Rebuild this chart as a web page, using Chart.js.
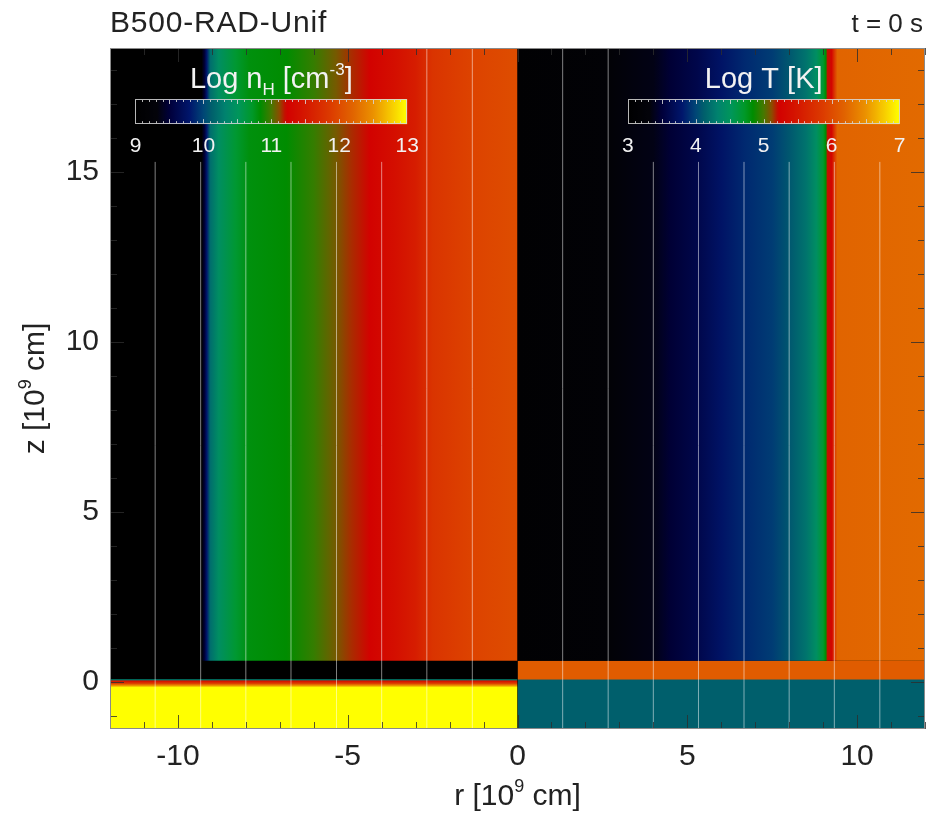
<!DOCTYPE html>
<html>
<head>
<meta charset="utf-8">
<title>B500-RAD-Unif</title>
<script src="https://cdn.jsdelivr.net/npm/chart.js@4.4.1/dist/chart.umd.min.js"></script>
<style>
  html, body { margin: 0; padding: 0; background: #fff; }
</style>
</head>
<body>
<canvas id="chart" width="927" height="813"></canvas>
<script>
'use strict';

// radial profiles above the base layer (r in 1e9 cm)
const densityRadius = [0, 1.33, 2.5, 3.0, 3.6, 4.35, 4.9, 5.35, 6.0, 6.8, 7.9, 8.3, 8.8, 9.05, 9.15, 9.22, 9.3, 12];
const logDensity    = [12.02, 11.94, 11.8, 11.56, 11.4, 11.24, 11.16, 11.08, 10.96, 10.84, 10.8, 10.68, 10.44, 10.2, 9.8, 9.48, 9.0, 9.0];

const temperatureRadius = [0, 2.7, 4.0, 4.5, 5.3, 6.0, 6.7, 7.5, 8.0, 8.5, 8.8, 9.0, 9.08, 9.13, 9.25, 9.33, 9.42, 12];
const logTemperature    = [3.08, 3.2, 3.36, 3.48, 3.6, 3.76, 3.88, 3.96, 4.08, 4.24, 4.44, 4.68, 4.84, 5.2, 5.28, 5.8, 6.2, 6.24];

// vertical profiles through the base layer (z in 1e9 cm)
const baseHeightDensity = [0.63, 0.1, 0.07, 0.03, -0.04, -0.1, -0.16, -1.38];
const baseLogDensity    = [9.0, 9.0, 10.3, 11.4, 11.9, 12.5, 13.0, 13.0];
const baseHeightTemperature = [0.63, 0.09, 0.06, -1.38];
const baseLogTemperature    = [6.14, 6.14, 4.12, 4.12];
const baseTop = 0.63;

// field lines
const fieldLineR   = [-10.67, -9.33, -8.0, -6.67, -5.33, -4.0, -2.67, -1.33, 1.33, 2.67, 4.0, 5.33, 6.67, 8.0, 9.33, 10.67];
const fieldLineTop = [15.3, 15.3, 15.3, 15.3, 15.3, 15.3, 18.65, 18.65, 18.65, 18.65, 15.3, 15.3, 15.3, 15.3, 15.3, 15.3];

const rRange = [-12, 12];
const zRange = [-1.38, 18.65];
const rTicks = [-10, -5, 0, 5, 10];
const zTicks = [0, 5, 10, 15];

const densityBarTicks = [9, 10, 11, 12, 13];
const temperatureBarTicks = [3, 4, 5, 6, 7];

const FONT = "'Liberation Sans', Arial, Helvetica, sans-serif";

// black - blue - green - red - yellow table
const paletteStops = [0, 0.08, 0.125, 0.2, 0.25, 0.28, 0.33, 0.38, 0.43, 0.46, 0.5, 0.53, 0.555, 0.63, 0.72, 0.8, 0.875, 0.95, 1];
const paletteRGB = [[0,0,0],[3,3,10],[0,0,58],[0,22,108],[0,70,118],[0,95,108],[0,130,110],[0,150,90],
  [0,152,40],[0,140,0],[70,120,0],[140,75,0],[210,0,0],[213,25,0],[220,60,0],[225,100,0],[235,145,0],[248,210,0],[255,255,0]];

function paletteColor(f) {
  f = Math.min(1, Math.max(0, f));
  let i = 0;
  while (i < paletteStops.length - 2 && f > paletteStops[i + 1]) i++;
  const t = (f - paletteStops[i]) / (paletteStops[i + 1] - paletteStops[i]);
  const a = paletteRGB[i], b = paletteRGB[i + 1];
  const c = a.map((v, k) => Math.round(v + (b[k] - v) * t));
  return `rgb(${c[0]},${c[1]},${c[2]})`;
}

function colorFor(v, lo, hi) {
  return paletteColor((v - lo) / (hi - lo));
}

// gradient along one axis following a profile; sign mirrors the profile onto negative r
function profileGradient(chart, axis, from, to, positions, values, lo, hi, sign) {
  const scale = chart.scales[axis];
  const p0 = scale.getPixelForValue(from), p1 = scale.getPixelForValue(to);
  const g = axis === 'x'
    ? chart.ctx.createLinearGradient(p0, 0, p1, 0)
    : chart.ctx.createLinearGradient(0, p0, 0, p1);
  positions.forEach((pos, i) => {
    const off = (scale.getPixelForValue(sign * pos) - p0) / (p1 - p0);
    if (off > -1e-6 && off < 1 + 1e-6) {
      g.addColorStop(Math.min(1, Math.max(0, off)), colorFor(values[i], lo, hi));
    }
  });
  return g;
}

function band(label, r0, r1, zTop, zBottom, paint) {
  return {
    type: 'line',
    label,
    data: [{x: r0, y: zTop}, {x: r1, y: zTop}],
    fill: {value: zBottom},
    backgroundColor: (ctx) => ctx.chart.chartArea ? paint(ctx.chart) : '#000',
    borderColor: 'rgba(0,0,0,0)',
    borderWidth: 0,
    pointRadius: 0,
    order: 5
  };
}

const datasets = [
  band('density', rRange[0], 0, zRange[1], baseTop,
    (c) => profileGradient(c, 'x', rRange[0], 0, densityRadius, logDensity, 9, 13, -1)),
  band('density base', rRange[0], 0, baseTop, zRange[0],
    (c) => profileGradient(c, 'y', baseTop, zRange[0], baseHeightDensity, baseLogDensity, 9, 13, 1)),
  band('temperature', 0, rRange[1], zRange[1], baseTop,
    (c) => profileGradient(c, 'x', 0, rRange[1], temperatureRadius, logTemperature, 3, 7, 1)),
  band('temperature base', 0, rRange[1], baseTop, zRange[0],
    (c) => profileGradient(c, 'y', baseTop, zRange[0], baseHeightTemperature, baseLogTemperature, 3, 7, 1))
];

fieldLineR.forEach((r, i) => {
  datasets.push({
    type: 'line',
    label: 'field line ' + i,
    data: [{x: r, y: zRange[0]}, {x: r, y: fieldLineTop[i]}],
    borderColor: 'rgba(255,255,255,0.5)',
    borderWidth: 1,
    pointRadius: 0,
    fill: false,
    order: 1
  });
});

// text with sub/superscript pieces: kind 0 normal, 1 sub, 2 sup
function drawRich(ctx, parts, x, baseY, size, color, align) {
  const small = Math.round(size * 0.6);
  const widths = parts.map(([t, k]) => {
    ctx.font = `${k ? small : size}px ${FONT}`;
    return ctx.measureText(t).width;
  });
  const total = widths.reduce((s, w) => s + w, 0);
  let cx = align === 'center' ? x - total / 2 : x;
  ctx.fillStyle = color;
  ctx.textAlign = 'left';
  ctx.textBaseline = 'alphabetic';
  parts.forEach(([t, k], i) => {
    ctx.font = `${k ? small : size}px ${FONT}`;
    const dy = k === 1 ? size * 0.24 : k === 2 ? -size * 0.45 : 0;
    ctx.fillText(t, cx, baseY + dy);
    cx += widths[i];
  });
}

function drawColorbar(chart, bar) {
  const {ctx} = chart;
  const {x, y} = chart.scales;
  const left = x.getPixelForValue(bar.r0), right = x.getPixelForValue(bar.r1);
  const top = y.getPixelForValue(bar.zTop), bottom = y.getPixelForValue(bar.zBottom);
  const lo = bar.ticks[0], hi = bar.ticks[bar.ticks.length - 1];
  ctx.save();
  const g = ctx.createLinearGradient(left, 0, right, 0);
  for (let i = 0; i <= 100; i++) g.addColorStop(i / 100, paletteColor(i / 100));
  ctx.fillStyle = g;
  ctx.fillRect(left, top, right - left, bottom - top);

  ctx.strokeStyle = 'rgba(215,215,215,0.85)';
  ctx.lineWidth = 1;
  ctx.strokeRect(Math.round(left) + 0.5, Math.round(top) + 0.5, Math.round(right - left) - 1, Math.round(bottom - top) - 1);
  ctx.beginPath();
  const steps = Math.round((hi - lo) * 10);
  for (let k = 1; k < steps; k++) {
    const px = Math.round(left + k / steps * (right - left)) + 0.5;
    const len = k % 5 === 0 ? 4 : 2;
    ctx.moveTo(px, top + 1); ctx.lineTo(px, top + 1 + len);
    ctx.moveTo(px, bottom - 1); ctx.lineTo(px, bottom - 1 - len);
  }
  ctx.stroke();

  ctx.fillStyle = '#f2f2f2';
  ctx.font = `21px ${FONT}`;
  ctx.textAlign = 'center';
  ctx.textBaseline = 'middle';
  bar.ticks.forEach((v) => {
    const px = left + (v - lo) / (hi - lo) * (right - left);
    ctx.fillText(String(v), px, bottom + 22);
  });
  drawRich(ctx, bar.label, (left + right) / 2, top - 11, 29, '#f2f2f2', 'center');
  ctx.restore();
}

function drawFrame(chart) {
  const {ctx, chartArea: a} = chart;
  const {x, y} = chart.scales;
  ctx.save();
  ctx.strokeStyle = 'rgba(45,45,45,0.8)';
  ctx.lineWidth = 1;
  ctx.beginPath();
  for (let v = Math.ceil(x.min); v <= x.max; v++) {
    const px = Math.round(x.getPixelForValue(v)) + 0.5;
    const len = v % 5 === 0 ? 14 : 7;
    ctx.moveTo(px, a.bottom); ctx.lineTo(px, a.bottom - len);
    ctx.moveTo(px, a.top); ctx.lineTo(px, a.top + len);
  }
  for (let v = Math.ceil(y.min); v <= y.max; v++) {
    const py = Math.round(y.getPixelForValue(v)) + 0.5;
    const len = v % 5 === 0 ? 14 : 7;
    ctx.moveTo(a.left, py); ctx.lineTo(a.left + len, py);
    ctx.moveTo(a.right, py); ctx.lineTo(a.right - len, py);
  }
  ctx.stroke();
  ctx.strokeStyle = '#8a8a8a';
  ctx.strokeRect(a.left + 0.5, a.top + 0.5, a.right - a.left - 1, a.bottom - a.top - 1);
  ctx.restore();
}

const decor = {
  id: 'decor',
  beforeDatasetsDraw(chart) {
    const {ctx, chartArea: a} = chart;
    ctx.save();
    ctx.fillStyle = '#000';
    ctx.fillRect(a.left, a.top, a.right - a.left, a.bottom - a.top);
    ctx.restore();
  },
  afterDatasetsDraw(chart) {
    drawColorbar(chart, {
      r0: -11.25, r1: -3.25, zTop: 17.15, zBottom: 16.41, ticks: densityBarTicks,
      label: [['Log n', 0], ['H', 1], [' [cm', 0], ['-3', 2], [']', 0]]
    });
    drawColorbar(chart, {
      r0: 3.25, r1: 11.25, zTop: 17.15, zBottom: 16.41, ticks: temperatureBarTicks,
      label: [['Log T [K]', 0]]
    });
    drawFrame(chart);
  },
  afterDraw(chart) {
    const {ctx, chartArea: a} = chart;
    ctx.save();
    ctx.fillStyle = '#222';
    ctx.textBaseline = 'alphabetic';
    ctx.font = `30px ${FONT}`;
    ctx.letterSpacing = '0.8px';
    ctx.textAlign = 'left';
    ctx.fillText('B500-RAD-Unif', a.left, 32);
    ctx.letterSpacing = '0px';
    ctx.font = `26px ${FONT}`;
    ctx.textAlign = 'right';
    ctx.fillText('t = 0 s', chart.width - 4, 32);

    drawRich(ctx, [['r [10', 0], ['9', 2], [' cm]', 0]], (a.left + a.right) / 2, 805, 30, '#222', 'center');
    ctx.translate(44, (a.top + a.bottom) / 2);
    ctx.rotate(-Math.PI / 2);
    drawRich(ctx, [['z [10', 0], ['9', 2], [' cm]', 0]], 0, 0, 30, '#222', 'center');
    ctx.restore();
  }
};

const canvas = document.getElementById('chart');
const chart = new Chart(canvas.getContext('2d'), {
  type: 'line',
  data: {datasets},
  options: {
    responsive: false,
    animation: false,
    parsing: false,
    layout: {padding: {top: 48, right: 2, left: 0, bottom: 0}},
    plugins: {
      legend: {display: false},
      tooltip: {enabled: false},
      title: {display: false}
    },
    scales: {
      x: {
        type: 'linear',
        min: rRange[0],
        max: rRange[1],
        afterBuildTicks: (s) => { s.ticks = rTicks.map((v) => ({value: v})); },
        afterFit: (s) => { s.height = 84; },
        grid: {display: false, drawTicks: false},
        border: {display: false},
        ticks: {font: {family: FONT, size: 30}, color: '#222', padding: 10, maxRotation: 0, autoSkip: false}
      },
      y: {
        type: 'linear',
        min: zRange[0],
        max: zRange[1],
        afterBuildTicks: (s) => { s.ticks = zTicks.map((v) => ({value: v})); },
        afterFit: (s) => { s.width = 110; },
        grid: {display: false, drawTicks: false},
        border: {display: false},
        ticks: {font: {family: FONT, size: 30}, color: '#222', padding: 11, autoSkip: false}
      }
    }
  },
  plugins: [decor]
});
</script>
</body>
</html>
